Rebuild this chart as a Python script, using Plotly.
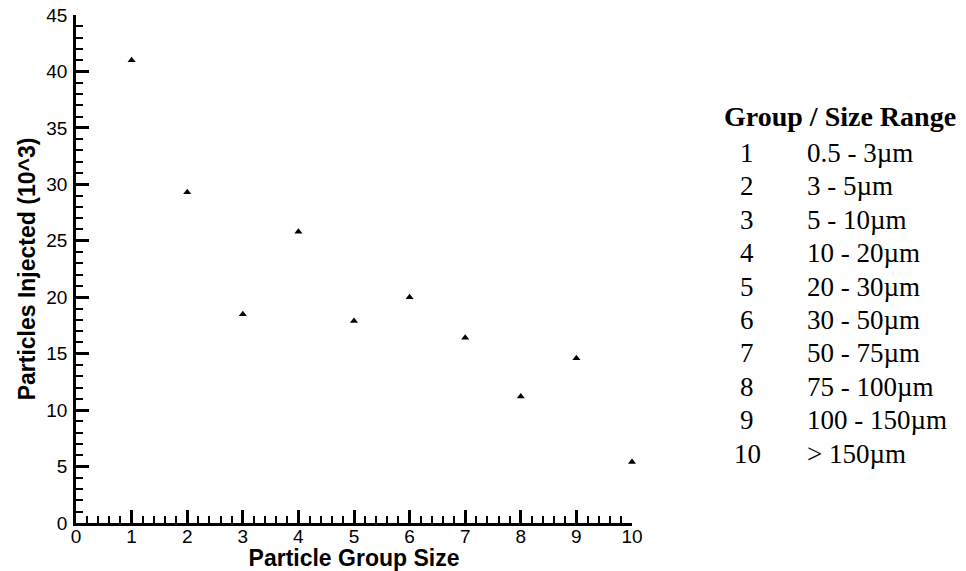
import plotly.graph_objects as go

# Particle groups and injected counts (thousands)
groups = [1, 2, 3, 4, 5, 6, 7, 8, 9, 10]
injected = [41.0, 29.3, 18.5, 25.8, 17.9, 20.0, 16.4, 11.2, 14.6, 5.4]

# Size range for each group
size_ranges = ["0.5 - 3µm", "3 - 5µm", "5 - 10µm", "10 - 20µm", "20 - 30µm",
               "30 - 50µm", "50 - 75µm", "75 - 100µm", "100 - 150µm", "> 150µm"]

W, H = 966, 571
L, R, T, B = 76, 334, 15, 48
plot_h = H - T - B

fig = go.Figure()
fig.add_trace(go.Scatter(
    x=groups, y=injected, mode="markers",
    marker=dict(symbol="triangle-up", size=7, color="black"),
    cliponaxis=False, showlegend=False,
))

axis_common = dict(
    showline=True, linecolor="black", linewidth=2.5,
    showgrid=False, zeroline=False, mirror=False, automargin=False,
    ticks="inside", ticklen=13, tickwidth=2.5, tickcolor="black",
    tickfont=dict(family="Liberation Sans, Arial", size=19, color="black"),
)

fig.update_xaxes(
    range=[0, 10], dtick=1, tick0=0, ticklabelstandoff=-6,
    minor=dict(dtick=0.2, ticks="inside", ticklen=7, tickwidth=1.5, tickcolor="black"),
    title=dict(text="<b>Particle Group Size</b>", standoff=6,
               font=dict(family="Liberation Sans, Arial", size=23, color="black")),
    **axis_common,
)
fig.update_yaxes(
    range=[0, 45], dtick=5, tick0=0, ticklabelstandoff=2,
    minor=dict(dtick=1, ticks="inside", ticklen=7, tickwidth=1.5, tickcolor="black"),
    title=dict(text="<b>Particles Injected (10^3)</b>", standoff=5,
               font=dict(family="Liberation Sans, Arial", size=23, color="black")),
    **axis_common,
)

# Group / size range table to the right of the plot
def px_x(x):
    return (x - L) / (W - L - R)

def px_y(y):
    return (H - B - y) / plot_h

serif = "Liberation Serif, Times New Roman"
annotations = [dict(
    text="<b>Group / Size Range</b>", xref="paper", yref="paper",
    x=px_x(722), y=px_y(117), xanchor="left", yanchor="middle", showarrow=False,
    font=dict(family=serif, size=28, color="black"),
)]
row_y0, row_dy = 153, 33.4
for i, (g, rng) in enumerate(zip(groups, size_ranges)):
    yy = px_y(row_y0 + i * row_dy)
    annotations.append(dict(
        text=str(g), xref="paper", yref="paper", x=px_x(747), y=yy,
        xanchor="center", yanchor="middle", showarrow=False,
        font=dict(family=serif, size=27, color="black"),
    ))
    annotations.append(dict(
        text=rng, xref="paper", yref="paper", x=px_x(805), y=yy,
        xanchor="left", yanchor="middle", showarrow=False,
        font=dict(family=serif, size=27, color="black"),
    ))

fig.update_layout(
    width=W, height=H,
    margin=dict(l=L, r=R, t=T, b=B, pad=0),
    paper_bgcolor="white", plot_bgcolor="white",
    annotations=annotations,
)

fig.write_html("out.html")
